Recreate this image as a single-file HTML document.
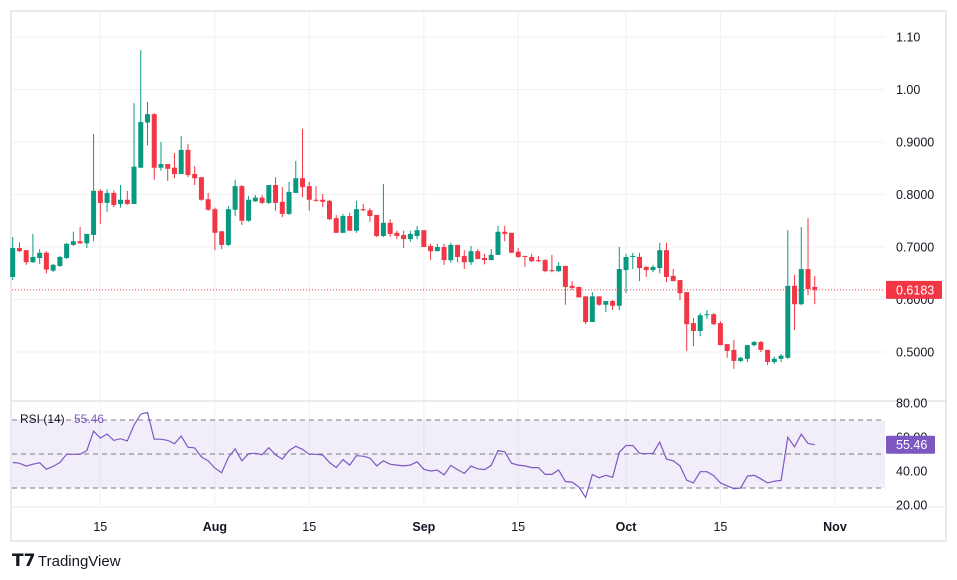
<!DOCTYPE html>
<html><head><meta charset="utf-8"><style>
html,body{margin:0;padding:0;background:#fff;width:957px;height:580px;overflow:hidden}
svg text{font-family:"Liberation Sans",sans-serif}
</style></head><body>
<svg id="chart" width="957" height="580" viewBox="0 0 957 580" xmlns="http://www.w3.org/2000/svg">
<rect x="11" y="11" width="935" height="530" fill="#fff" stroke="#e9eaef" stroke-width="2"/>
<g id="grid"></g><g id="rsiband"></g><g id="candles"></g><g id="rsi"></g><g id="axes"></g>
<g>
<text x="12" y="566" font-size="17" font-weight="bold" fill="#131722" font-family="Liberation Sans">𝗧𝟳</text>
<text x="38" y="566" font-size="15" fill="#131722">TradingView</text></g>
</svg>
<script>
const opens=[.643,.698,.694,.671,.679,.689,.655,.664,.679,.704,.711,.707,.723,.807,.784,.803,.782,.790,.782,.851,.937,.953,.851,.858,.851,.839,.885,.839,.833,.791,.772,.730,.704,.771,.816,.750,.787,.794,.784,.818,.786,.763,.803,.831,.816,.790,.790,.788,.755,.727,.759,.731,.772,.770,.761,.721,.746,.727,.723,.715,.721,.732,.702,.692,.700,.675,.704,.683,.671,.692,.679,.675,.685,.729,.727,.691,.683,.681,.675,.675,.656,.654,.664,.626,.624,.606,.557,.606,.590,.597,.588,.656,.681,.681,.662,.656,.660,.694,.645,.637,.614,.555,.540,.570,.572,.555,.515,.504,.483,.487,.513,.519,.504,.481,.487,.489,.626,.591,.658,.624];
const closes=[.698,.692,.671,.681,.689,.657,.666,.681,.706,.711,.707,.725,.807,.784,.803,.780,.790,.782,.853,.938,.953,.851,.858,.849,.839,.885,.837,.831,.790,.771,.727,.704,.772,.816,.750,.790,.794,.784,.818,.784,.763,.805,.831,.814,.790,.788,.786,.753,.727,.759,.731,.772,.770,.759,.721,.746,.725,.721,.715,.725,.732,.700,.692,.700,.675,.704,.681,.671,.692,.677,.675,.685,.729,.725,.689,.681,.681,.673,.673,.654,.654,.664,.624,.622,.604,.557,.606,.590,.597,.588,.658,.681,.683,.660,.656,.662,.694,.643,.635,.612,.553,.540,.570,.572,.553,.513,.502,.483,.489,.513,.519,.504,.481,.487,.493,.626,.591,.658,.620,.6183];
const highs=[.719,.709,.694,.725,.696,.692,.668,.683,.708,.729,.738,.725,.915,.810,.810,.808,.818,.807,.974,1.075,.976,.955,.900,.858,.879,.911,.896,.854,.833,.803,.775,.730,.778,.828,.818,.797,.799,.799,.818,.833,.814,.824,.864,.925,.824,.816,.801,.790,.761,.763,.765,.788,.782,.774,.761,.820,.753,.731,.731,.731,.740,.732,.706,.706,.706,.708,.704,.694,.702,.696,.687,.696,.740,.740,.727,.698,.683,.687,.683,.677,.685,.671,.664,.635,.624,.606,.614,.606,.597,.599,.700,.687,.689,.689,.664,.666,.708,.708,.658,.637,.614,.565,.574,.580,.574,.559,.515,.523,.491,.513,.521,.521,.504,.491,.496,.732,.647,.738,.755,.645];
const lows=[.637,.690,.666,.670,.668,.650,.652,.662,.677,.702,.706,.698,.711,.744,.767,.776,.775,.780,.782,.851,.894,.828,.845,.826,.831,.839,.833,.818,.788,.769,.694,.696,.702,.759,.742,.748,.786,.782,.782,.769,.757,.761,.803,.795,.769,.786,.776,.751,.727,.727,.731,.727,.768,.748,.719,.719,.719,.715,.698,.710,.715,.700,.675,.692,.666,.670,.671,.658,.666,.677,.667,.675,.685,.711,.689,.679,.662,.671,.671,.652,.652,.652,.590,.618,.604,.553,.557,.588,.576,.580,.580,.612,.658,.635,.643,.652,.650,.633,.635,.599,.502,.511,.530,.563,.551,.513,.489,.468,.481,.481,.511,.500,.475,.477,.481,.487,.542,.589,.608,.591];
const rsiValues=[45,44.6,42.9,44,44.8,41,42.7,45,49.8,49.8,49.8,52,63.5,59.4,61.7,58,59,57.7,67,73.5,74.4,58.7,58.7,58,56,60.6,54,53.6,48.3,46,41.7,39,48,53,46,50.2,50.4,49.6,53.7,49.5,47,52,54.6,52.7,49.8,49.8,49.4,45,42,46.7,43.5,49,48.7,47.6,43,46,44,43.5,43,43.5,45.4,41,40,40.5,37.7,43.3,40.8,38.6,42.9,41.3,40.8,43.3,52,51.3,44.6,43.5,43,42,42,38,38,40.6,33.8,33.5,30.6,24.4,37.9,36,37.5,36.3,51,55,55,50.4,50.2,50.4,57,47,46,43,34.6,33,39.6,39.6,37.3,33,31.3,29.6,30,37,37.5,35.4,33,34,34.5,59.8,54.2,61.7,56.2,55.46];
const priceTicks=[1.10,1.00,0.90,0.80,0.70,0.60,0.50];
const priceTickLabels=["1.10","1.00","0.9000","0.8000","0.7000","0.6000","0.5000"];
const rsiTicks=[80,60,40,20];
const timeTickIdx=[13,30,44,61,75,91,105,122];
const timeTickLabels=["15","Aug","15","Sep","15","Oct","15","Nov"];
const timeTickBold=[false,true,false,true,false,true,false,true];
const lastPrice=0.6183, lastRsi=55.46;

const NS="http://www.w3.org/2000/svg";
const xOf=i=>12.7+i*6.74;
const yP=p=>37+(1.10-p)*525;
const yR=v=>505-(v-20)*1.7;
function mk(parent,tag,attrs,txt){const e=document.createElementNS(NS,tag);for(const k in attrs)e.setAttribute(k,attrs[k]);if(txt!==undefined)e.textContent=txt;document.getElementById(parent).appendChild(e);return e;}

// grid
timeTickIdx.forEach((t,k)=>{
  const g=mk('grid','line',{x1:xOf(t),x2:xOf(t),y1:12,y2:506,stroke:'#f0f1f4','stroke-width':1});
  
  
  const tx=mk('axes','text',{x:xOf(t),y:531,'text-anchor':'middle','font-size':12.5,fill:'#131722','font-weight':timeTickBold[k]?'bold':'normal'},timeTickLabels[k]);
  
  
});
priceTicks.forEach((p,k)=>{
  const g=mk('grid','line',{x1:12,x2:885,y1:yP(p),y2:yP(p),stroke:'#f0f1f4','stroke-width':1});
  
  
  const tx=mk('axes','text',{x:896,y:yP(p)+4.5,'font-size':12.5,fill:'#131722'},priceTickLabels[k]);
  
  
});
// pane separator
const sep=mk('grid','line',{x1:12,x2:946,y1:401,y2:401,stroke:'#e0e3eb','stroke-width':1.5});


const sep2=mk('grid','line',{x1:12,x2:946,y1:507,y2:507,stroke:'#eef0f3','stroke-width':1.5});


// rsi band
const band=mk('rsiband','rect',{x:12,y:yR(70),width:873,height:yR(30)-yR(70),fill:'rgba(126,87,194,0.1)'});


[70,50,30].forEach(v=>{
  const l=mk('rsiband','line',{x1:12,x2:885,y1:yR(v),y2:yR(v),stroke:'#787b86','stroke-width':1,'stroke-dasharray':'5,4'});
  
  
});
rsiTicks.forEach(v=>{
  const tx=mk('axes','text',{x:896,y:yR(v)+4.5,'font-size':12.5,fill:'#131722'},v.toFixed(2));
  
  
});
// candles
for(let i=0;i<opens.length;i++){
  const up=closes[i]>=opens[i], c=up?'#089981':'#f23645', x=xOf(i);
  const w=mk('candles','line',{x1:x,x2:x,y1:yP(highs[i]),y2:yP(lows[i]),stroke:c,'stroke-width':1});
  
  
  const t=yP(Math.max(opens[i],closes[i])), b=yP(Math.min(opens[i],closes[i]));
  const r=mk('candles','rect',{x:x-2.5,y:t,width:5,height:Math.max(1,b-t),fill:c});
  
  
}
// last price line
const lp=mk('candles','line',{x1:12,x2:885,y1:yP(lastPrice),y2:yP(lastPrice),stroke:'#f23645','stroke-width':1,'stroke-dasharray':'1,2'});


const lb=mk('axes','rect',{x:886,y:yP(lastPrice)-9,width:56,height:18,fill:'#f23645',rx:1});


const lt=mk('axes','text',{x:896,y:yP(lastPrice)+4.5,'font-size':12.5,fill:'#fff'},lastPrice.toFixed(4));


// rsi line
const pts=rsiValues.map((v,i)=>xOf(i).toFixed(1)+','+yR(v).toFixed(1)).join(' ');
const rl=mk('rsi','polyline',{points:pts,fill:'none',stroke:'#7e57c2','stroke-width':1.2});


const rb=mk('axes','rect',{x:886,y:yR(lastRsi)-9,width:49,height:18,fill:'#7e57c2',rx:1});


const rt=mk('axes','text',{x:896,y:yR(lastRsi)+4.5,'font-size':12.5,fill:'#fff'},lastRsi.toFixed(2));


const rn=mk('axes','text',{x:20,y:423,'font-size':12,fill:'#131722'},'RSI (14)');


const rv=mk('axes','text',{x:74,y:423,'font-size':12,fill:'#7e57c2'},lastRsi.toFixed(2));


</script>
</body></html>
